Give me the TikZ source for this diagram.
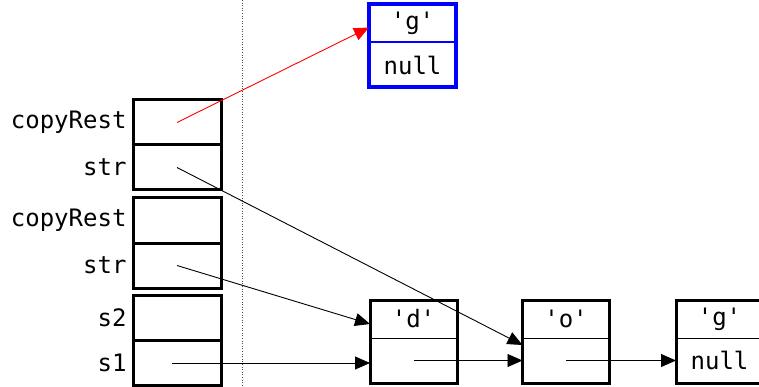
\documentclass[tikz,border=0pt]{standalone}
\usepackage{fontspec}
\setmonofont{DejaVu Sans Mono}
\usetikzlibrary{positioning, arrows.meta}

\tikzset{
  code/.style={font=\ttfamily\fontsize{24}{28}\selectfont},
  slot/.style={draw, line width=3pt, minimum width=88pt, minimum height=45pt, inner sep=0pt, outer sep=0pt},
  head/.style={code, draw, line width=1pt, minimum width=87pt, minimum height=38pt, inner sep=0pt, outer sep=0pt},
  tail/.style={code, draw, line width=1pt, minimum width=87pt, minimum height=45pt, inner sep=0pt, outer sep=0pt},
  frame/.style={line width=3pt},
  ref/.style={-{Triangle[length=15pt, width=13pt]}, line width=0.9pt},
}

\begin{document}
\begin{tikzpicture}[x=1pt, y=-1pt]
  \useasboundingbox (0,0) rectangle (759,387);

  % stack
  \node[slot] (cr1) at (177,122.5) {};
  \node[slot, below=0pt of cr1] (str1) {};
  \node[slot] (cr2) at (177,220.5) {};
  \node[slot, below=0pt of cr2] (str2) {};
  \node[slot] (s2) at (177,318) {};
  \node[slot, below=0pt of s2] (s1) {};
  \node[code, left=3pt of cr1] (lcr1) {copyRest};
  \node[code, left=3pt of str1] (lstr1) {str};
  \node[code, left=3pt of cr2] (lcr2) {copyRest};
  \node[code, left=3pt of str2] (lstr2) {str};
  \node[code, left=3pt of s2] (ls2) {s2};
  \node[code, left=3pt of s1] (ls1) {s1};

  \coordinate (top) at (242,0);
  \coordinate (bot) at (242,387);
  \draw[dotted, line width=0.6pt, black!70] (top) -- (bot);

  % heap
  \node[head] (dtop) at (413.5,319) {'d'};
  \node[tail, below=0pt of dtop] (dbot) {};
  \draw[frame] (dtop.north west) rectangle (dbot.south east);
  \node[head] (otop) at (566,319) {'o'};
  \node[tail, below=0pt of otop] (obot) {};
  \draw[frame] (otop.north west) rectangle (obot.south east);
  \node[head] (gtop) at (719.5,319) {'g'};
  \node[tail, below=0pt of gtop] (gbot) {null};
  \draw[frame] (gtop.north west) rectangle (gbot.south east);
  \node[head, blue, text=black, line width=2pt] (newgtop) at (412.5,23.5) {'g'};
  \node[tail, blue, text=black, line width=2pt, below=0pt of newgtop] (newgbot) {null};
  \draw[frame, blue, line width=4pt] (newgtop.north west) rectangle (newgbot.south east);

  \draw[ref, red] (cr1.center) -- ([yshift=-4pt]newgtop.west);
  \draw[ref] (str1.center) -- ([yshift=-7pt]obot.north west);
  \draw[ref] (str2.center) -- ([yshift=-5pt]dtop.west);
  \draw[ref] ([xshift=-5pt]s1.center) -- (s1.center -| dbot.west);
  \draw[ref] (dbot.center) -- (obot.west);
  \draw[ref] (obot.center) -- (gbot.west);
\end{tikzpicture}
\end{document}
